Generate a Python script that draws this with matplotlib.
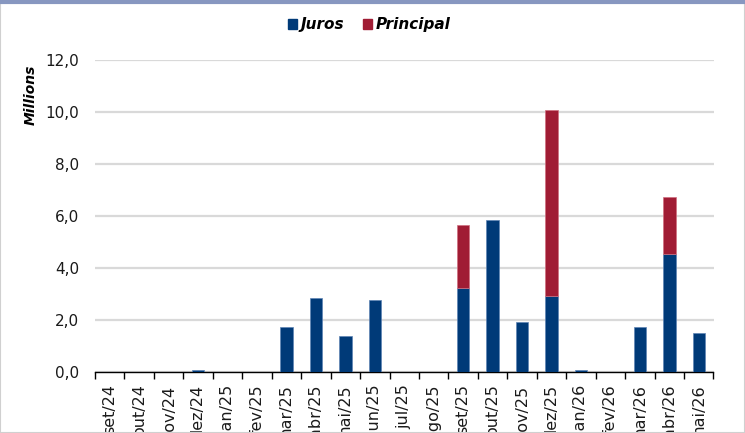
import matplotlib
matplotlib.use("Agg")
import matplotlib.pyplot as plt
import numpy as np
from matplotlib.patches import Patch, Rectangle
from matplotlib.ticker import FixedLocator, FuncFormatter

categories = ["set/24", "out/24", "nov/24", "dez/24", "jan/25", "fev/25", "mar/25",
              "abr/25", "mai/25", "jun/25", "jul/25", "ago/25", "set/25", "out/25",
              "nov/25", "dez/25", "jan/26", "fev/26", "mar/26", "abr/26", "mai/26"]
juros = [0.0, 0.0, 0.0, 0.08, 0.0, 0.0, 1.73, 2.85, 1.38, 2.77, 0.0, 0.0, 3.24, 5.83,
         1.94, 2.91, 0.07, 0.0, 1.74, 4.55, 1.49]
principal = [0.0, 0.0, 0.0, 0.0, 0.0, 0.0, 0.0, 0.0, 0.0, 0.0, 0.0, 0.0, 2.40, 0.0,
             0.0, 7.17, 0.0, 0.0, 0.0, 2.18, 0.0]
yticks = [0, 2, 4, 6, 8, 10, 12]

c_juros = "#003a78"
c_princ = "#a01c34"

fig = plt.figure(figsize=(7.45, 4.33), dpi=100)
ax = fig.add_axes([95/745, 1-372/433, (713.5-95)/745, (372-60)/433])

x = np.arange(len(categories))
w = 0.42
ax.bar(x, juros, width=w, color=c_juros, edgecolor="#5f84b5",
       linewidth=[0.5 if v > 0 else 0 for v in juros], zorder=3)
ax.bar(x, principal, width=w, bottom=juros, color=c_princ, edgecolor="#d07080",
       linewidth=[0.5 if v > 0 else 0 for v in principal], zorder=3)

ax.set_xlim(-0.5, len(categories)-0.5)
ax.set_ylim(0, 12)
ax.set_yticks(yticks)
ax.yaxis.set_major_formatter(FuncFormatter(lambda v, p: f"{v:.1f}".replace(".", ",")))
ax.tick_params(axis="y", length=0, pad=11.5, labelsize=11, labelcolor="#1a1a1a")
ax.grid(axis="y", color="#d9d9d9", linewidth=1.6, zorder=0)

ax.xaxis.set_major_locator(FixedLocator(np.arange(len(categories)+1)-0.5))
ax.xaxis.set_major_formatter(FuncFormatter(lambda v, p: ""))
ax.xaxis.set_minor_locator(FixedLocator(x))
ax.set_xticks(x, categories, minor=True)
ax.tick_params(axis="x", which="major", length=5, width=1, color="black")
ax.tick_params(axis="x", which="minor", length=0, labelrotation=90, labelsize=11.5,
               pad=9, labelcolor="#1a1a1a")

for s in ["top", "right", "left"]:
    ax.spines[s].set_visible(False)
ax.spines["bottom"].set_color("black")
ax.spines["bottom"].set_linewidth(1)

fig.text(31/745, 1-95/433, "Millions", rotation=90, ha="center", va="center",
         fontsize=10, fontweight="bold", fontstyle="italic")

handles = [Patch(color=c_juros, label="Juros"), Patch(color=c_princ, label="Principal")]
leg = fig.legend(handles=handles, loc="center", bbox_to_anchor=(369/745, 1-25/433), ncol=2,
                 frameon=False, handlelength=0.6, handleheight=0.6, handletextpad=0.25,
                 columnspacing=1.2, prop={"weight": "bold", "style": "italic", "size": 11})

# outer frame
fig.add_artist(Rectangle((0, 0), 1, 1, transform=fig.transFigure, fill=False,
                         edgecolor="#d0d0d0", linewidth=1.5))
fig.add_artist(plt.Line2D([0, 1], [1-1.5/433, 1-1.5/433], transform=fig.transFigure,
                          color="#8797c0", linewidth=3))

fig.savefig("out.png", dpi=100)
